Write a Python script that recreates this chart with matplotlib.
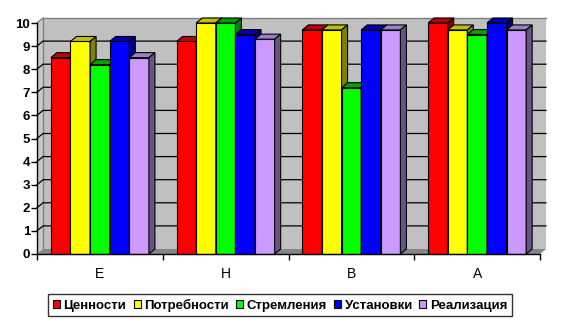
import matplotlib
matplotlib.use("Agg")
import matplotlib.pyplot as plt
from matplotlib.patches import Polygon, Patch

plt.rcParams['font.family'] = ['Liberation Sans', 'DejaVu Sans']

categories = ["E", "H", "B", "A"]
series_names = ["Ценности", "Потребности", "Стремления", "Установки", "Реализация"]
tsennosti = [8.5, 9.2, 9.7, 10.0]
potrebnosti = [9.2, 10.0, 9.7, 9.7]
stremleniya = [8.2, 10.0, 7.2, 9.5]
ustanovki = [9.2, 9.5, 9.7, 10.0]
realizatsiya = [8.5, 9.3, 9.7, 9.7]
y_ticks = list(range(0, 11))

series_values = [tsennosti, potrebnosti, stremleniya, ustanovki, realizatsiya]
front_colors = ["#FF0000", "#FFFF00", "#00FF00", "#0000FF", "#CC99FF"]
top_colors = ["#C00000", "#C0C000", "#00A000", "#0000B0", "#9A80C8"]
side_colors = ["#800000", "#808000", "#008000", "#000080", "#665482"]

W, H, DPI = 565, 334, 100
fig = plt.figure(figsize=(W / DPI, H / DPI), dpi=DPI)
fig.patch.set_facecolor("white")

ax_left, ax_right, ax_bottom, ax_top = 37, 540, 254, 23
ax = fig.add_axes([ax_left / W, (H - ax_bottom) / H,
                   (ax_right - ax_left) / W, (ax_bottom - ax_top) / H])
n_cat = len(categories)
xmin, xmax = -0.5, n_cat - 0.5
ymin, ymax = 0, 10
ax.set_xlim(xmin, xmax)
ax.set_ylim(ymin, ymax)
ax.set_facecolor("none")

# depth of the pseudo-3D walls and bars, in pixels converted to data units
depth_px_x, depth_px_y = 6, 5
dx = depth_px_x * (xmax - xmin) / (ax_right - ax_left)
dy = depth_px_y * (ymax - ymin) / (ax_bottom - ax_top)

# back wall, side wall and floor
ax.add_patch(Polygon([(xmin + dx, ymin + dy), (xmax + dx, ymin + dy),
                      (xmax + dx, ymax + dy), (xmin + dx, ymax + dy)],
                     closed=True, facecolor="#C0C0C0", edgecolor="none",
                     zorder=0.5, clip_on=False))
ax.add_patch(Polygon([(xmin, ymin), (xmin + dx, ymin + dy),
                      (xmin + dx, ymax + dy), (xmin, ymax)],
                     closed=True, facecolor="#C8C8C8", edgecolor="none",
                     zorder=0.6, clip_on=False))
ax.plot([xmin + dx, xmin + dx, xmax + dx], [ymin + dy, ymax + dy, ymax + dy],
        color="#808080", lw=1.0, zorder=0.9, clip_on=False)
ax.plot([xmin, xmin + dx], [ymax, ymax + dy], color="#808080", lw=1.0,
        zorder=0.9, clip_on=False)

# gridlines across side wall and back wall
for t in y_ticks[1:-1]:
    ax.plot([xmin, xmin + dx, xmax + dx], [t, t + dy, t + dy],
            color="black", lw=0.9, zorder=1, clip_on=False)

ax.add_patch(Polygon([(xmin, ymin), (xmax, ymin), (xmax + dx, ymin + dy),
                      (xmin + dx, ymin + dy)],
                     closed=True, facecolor="#858585", edgecolor="none",
                     zorder=1.5, clip_on=False))

# bars with top and side faces
bar_w = 0.156
n_ser = len(series_values)
for i, vals in enumerate(series_values):
    offs = (i - (n_ser - 1) / 2) * bar_w
    xs = [c + offs for c in range(n_cat)]
    z = 3 + i
    ax.bar(xs, vals, width=bar_w, color=front_colors[i], edgecolor="black",
           linewidth=0.8, zorder=z, clip_on=False)
    for x, v in zip(xs, vals):
        x0, x1 = x - bar_w / 2, x + bar_w / 2
        ax.add_patch(Polygon([(x0, v), (x1, v), (x1 + dx, v + dy), (x0 + dx, v + dy)],
                             closed=True, facecolor=top_colors[i], edgecolor="black",
                             linewidth=0.8, zorder=z + 0.1, clip_on=False))
        ax.add_patch(Polygon([(x1, 0), (x1 + dx, dy), (x1 + dx, v + dy), (x1, v)],
                             closed=True, facecolor=side_colors[i], edgecolor="black",
                             linewidth=0.8, zorder=z + 0.1, clip_on=False))

# axes and ticks
for s in ["top", "right"]:
    ax.spines[s].set_visible(False)
for s in ["left", "bottom"]:
    ax.spines[s].set_color("black")
    ax.spines[s].set_linewidth(1.0)
    ax.spines[s].set_zorder(20)

ax.set_yticks(y_ticks)
ax.set_yticklabels([str(t) for t in y_ticks], fontsize=9.5, fontweight="bold")
ax.tick_params(axis="y", direction="out", length=4, width=1, pad=1)

ax.set_xticks(range(n_cat))
ax.set_xticklabels(categories, fontsize=10)
ax.set_xticks([c + 0.5 for c in range(-1, n_cat)], minor=True)
ax.tick_params(axis="x", which="major", length=0, pad=9)
ax.tick_params(axis="x", which="minor", direction="out", length=4, width=1)

handles = [Patch(facecolor=front_colors[i], edgecolor="black", linewidth=0.8)
           for i in range(n_ser)]
leg = fig.legend(handles, series_names, loc="center",
                 bbox_to_anchor=(280 / W, (H - 305) / H), ncol=n_ser,
                 prop={"weight": "bold", "size": 9.5},
                 frameon=True, fancybox=False, edgecolor="black",
                 handlelength=0.55, handleheight=0.55, handletextpad=0.25,
                 columnspacing=0.55, borderpad=0.35, borderaxespad=0)
leg.get_frame().set_linewidth(1.0)

fig.savefig("out.png", dpi=DPI)
